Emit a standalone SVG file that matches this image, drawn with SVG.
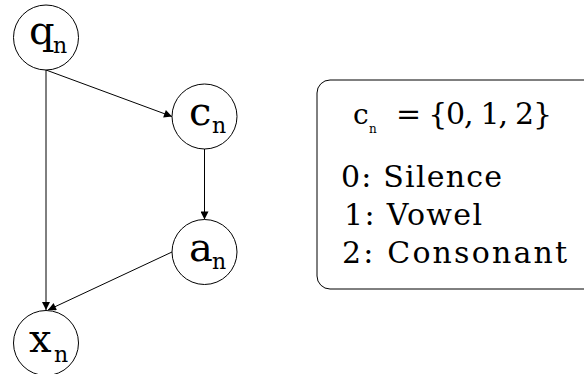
<svg xmlns="http://www.w3.org/2000/svg" width="584" height="374" viewBox="0 0 584 374">
  <style>
    .node circle { fill: #fff; stroke: #000; stroke-width: 1; }
    .lbl { font-family: "DejaVu Serif", "Liberation Serif", serif; fill: #000; }
    .main { font-size: 40px; }
    .sub { font-size: 22px; }
    .edge { stroke: #000; stroke-width: 1; fill: none; marker-end: url(#arrow); }
    .legend { font-family: "DejaVu Serif", "Liberation Serif", serif; font-size: 30px; fill: #000; }
  </style>
  <defs>
    <marker id="arrow" viewBox="0 0 10 10" refX="10" refY="5" markerWidth="10" markerHeight="8" markerUnits="userSpaceOnUse" orient="auto">
      <path d="M0,0 L10,5 L0,10 Z" fill="#000"/>
    </marker>
  </defs>

  <rect x="0" y="0" width="584" height="374" fill="#fff"/>

  <!-- connectors -->
  <g id="edges">
    <line class="edge" x1="46" y1="70" x2="172" y2="116.5"/>
    <line class="edge" x1="46" y1="70" x2="46" y2="310"/>
    <line class="edge" x1="204.5" y1="149" x2="204.5" y2="219.5"/>
    <line class="edge" x1="172" y1="252" x2="48" y2="310"/>
  </g>

  <!-- nodes -->
  <g id="q" class="node">
    <circle cx="46" cy="37.5" r="32.5"/>
    <text class="lbl main" x="29" y="44">q</text>
    <text class="lbl sub" x="53" y="53">n</text>
  </g>
  <g id="c" class="node">
    <circle cx="204.5" cy="116.5" r="32.5"/>
    <text class="lbl main" x="189" y="125">c</text>
    <text class="lbl sub" x="212" y="133">n</text>
  </g>
  <g id="a" class="node">
    <circle cx="204.5" cy="252" r="32.5"/>
    <text class="lbl main" x="189" y="260.5">a</text>
    <text class="lbl sub" x="212" y="269">n</text>
  </g>
  <g id="x" class="node">
    <circle cx="46" cy="343" r="32.5"/>
    <text class="lbl main" x="29" y="352">x</text>
    <text class="lbl sub" x="54" y="361.5">n</text>
  </g>

  <!-- legend box -->
  <g id="legend">
    <rect x="317" y="80" width="290" height="209" rx="13" ry="13" fill="#fff" stroke="#000" stroke-width="1"/>
    <text class="legend" x="353" y="124" style="font-size:28px">c</text>
    <text class="legend" x="369" y="133" style="font-size:12px">n</text>
    <text class="legend" x="396" y="124" textLength="156" lengthAdjust="spacing">= {0, 1, 2}</text>
    <text class="legend" x="341" y="187" textLength="161" lengthAdjust="spacing">0: Silence</text>
    <text class="legend" x="344" y="225" textLength="138" lengthAdjust="spacing">1: Vowel</text>
    <text class="legend" x="342" y="263" textLength="225" lengthAdjust="spacing">2: Consonant</text>
  </g>
</svg>
